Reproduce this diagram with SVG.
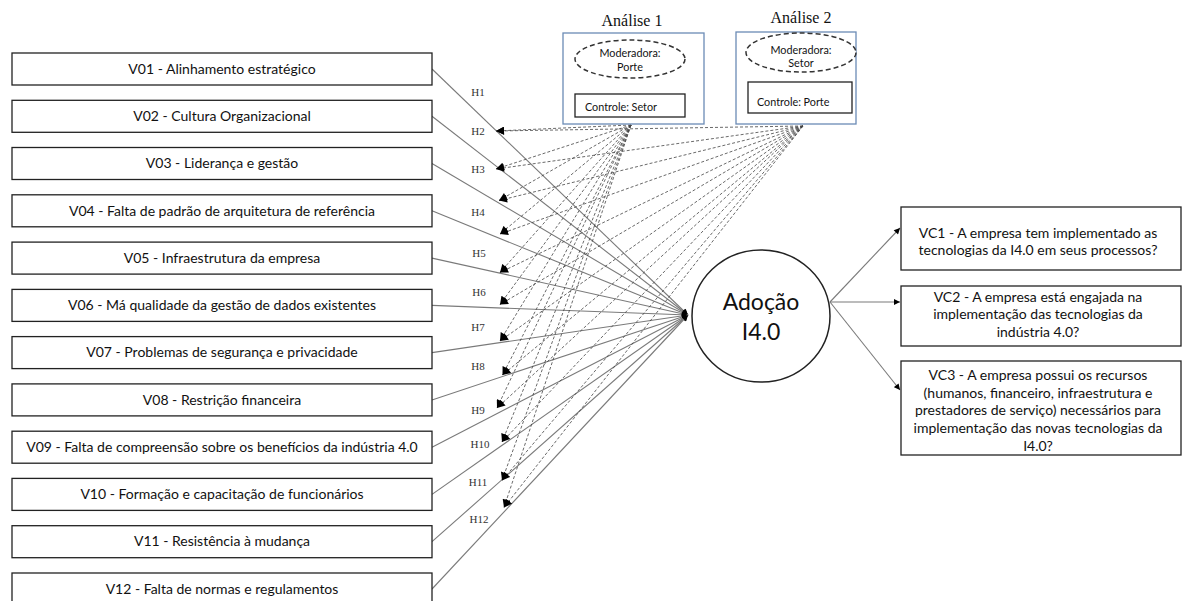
<svg xmlns="http://www.w3.org/2000/svg" width="1183" height="601" viewBox="0 0 1183 601">
<style>
.box{fill:#fff;stroke:#222;stroke-width:1.3}
.abox{fill:#fff;stroke:#6b8bb5;stroke-width:1.3}
.ell{fill:#fff;stroke:#333;stroke-width:1.5;stroke-dasharray:5 3}
.t{font-family:Lato,"Open Sans",sans-serif;font-size:14px;fill:#111;text-anchor:middle}
.s{font-family:Lato,"Open Sans",sans-serif;font-size:10.8px;fill:#111}
.big{font-family:Lato,"Open Sans",sans-serif;font-size:23px;fill:#111;text-anchor:middle}
.h{font-family:"Liberation Serif",serif;font-size:11px;fill:#333;text-anchor:middle}
.an{font-family:"Liberation Serif",serif;font-size:16px;fill:#111;text-anchor:middle}
.sol{stroke:#7a7a7a;stroke-width:1.1;fill:none}
.dash{stroke:#444;stroke-width:0.8;stroke-dasharray:3 2;fill:none}
</style>
<defs>
<marker id="ah" viewBox="0 0 10 10" refX="10" refY="5" markerWidth="9" markerHeight="8" markerUnits="userSpaceOnUse" orient="auto"><path d="M0,0 L10,5 L0,10 z" fill="#000"/></marker>
<marker id="as" viewBox="0 0 10 10" refX="10" refY="5" markerWidth="7" markerHeight="6" markerUnits="userSpaceOnUse" orient="auto"><path d="M0,0 L10,5 L0,10 z" fill="#000"/></marker>
</defs>

<g id="connectors">
<g id="solid-lines" class="sol">
<line x1="432" y1="69" x2="688" y2="315" marker-end="url(#as)"/>
<line x1="432" y1="116.3" x2="688" y2="315" marker-end="url(#as)"/>
<line x1="432" y1="163.5" x2="688" y2="315" marker-end="url(#as)"/>
<line x1="432" y1="210.8" x2="688" y2="315" marker-end="url(#as)"/>
<line x1="432" y1="258.1" x2="688" y2="315" marker-end="url(#as)"/>
<line x1="432" y1="305.4" x2="688" y2="315" marker-end="url(#as)"/>
<line x1="432" y1="352.6" x2="688" y2="315" marker-end="url(#as)"/>
<line x1="432" y1="399.9" x2="688" y2="315" marker-end="url(#as)"/>
<line x1="432" y1="447.2" x2="688" y2="315" marker-end="url(#as)"/>
<line x1="432" y1="494.4" x2="688" y2="315" marker-end="url(#as)"/>
<line x1="432" y1="541.7" x2="688" y2="315" marker-end="url(#as)"/>
<line x1="432" y1="589" x2="688" y2="315" marker-end="url(#as)"/>
<line x1="830" y1="302" x2="900" y2="228" marker-end="url(#as)"/>
<line x1="830" y1="302" x2="900" y2="302" marker-end="url(#as)"/>
<line x1="830" y1="302" x2="900" y2="390" marker-end="url(#as)"/>
</g>
<g id="dashed-a1" class="dash">
<line x1="631" y1="125" x2="496" y2="131" marker-end="url(#ah)"/>
<line x1="631" y1="125" x2="496" y2="169" marker-end="url(#ah)"/>
<line x1="631" y1="125" x2="499" y2="200.5" marker-end="url(#ah)"/>
<line x1="631" y1="125" x2="500" y2="234" marker-end="url(#ah)"/>
<line x1="631" y1="125" x2="500" y2="272.5" marker-end="url(#ah)"/>
<line x1="631" y1="125" x2="500" y2="304.5" marker-end="url(#ah)"/>
<line x1="631" y1="125" x2="500" y2="341" marker-end="url(#ah)"/>
<line x1="631" y1="125" x2="502.5" y2="375" marker-end="url(#ah)"/>
<line x1="631" y1="125" x2="497" y2="408" marker-end="url(#ah)"/>
<line x1="631" y1="125" x2="502" y2="442" marker-end="url(#ah)"/>
<line x1="631" y1="125" x2="502" y2="480.5" marker-end="url(#ah)"/>
<line x1="631" y1="125" x2="504" y2="507.5" marker-end="url(#ah)"/>
</g>
<g id="dashed-a2" class="dash">
<line x1="803" y1="126" x2="496" y2="131" marker-end="url(#ah)"/>
<line x1="803" y1="126" x2="496" y2="169" marker-end="url(#ah)"/>
<line x1="803" y1="126" x2="499" y2="200.5" marker-end="url(#ah)"/>
<line x1="803" y1="126" x2="500" y2="234" marker-end="url(#ah)"/>
<line x1="803" y1="126" x2="500" y2="272.5" marker-end="url(#ah)"/>
<line x1="803" y1="126" x2="500" y2="304.5" marker-end="url(#ah)"/>
<line x1="803" y1="126" x2="500" y2="341" marker-end="url(#ah)"/>
<line x1="803" y1="126" x2="502.5" y2="375" marker-end="url(#ah)"/>
<line x1="803" y1="126" x2="497" y2="408" marker-end="url(#ah)"/>
<line x1="803" y1="126" x2="502" y2="442" marker-end="url(#ah)"/>
<line x1="803" y1="126" x2="502" y2="480.5" marker-end="url(#ah)"/>
<line x1="803" y1="126" x2="504" y2="507.5" marker-end="url(#ah)"/>
</g>
<g id="h-labels" class="h">
<text x="478" y="95.5">H1</text>
<text x="478" y="134.5">H2</text>
<text x="478" y="172.5">H3</text>
<text x="478" y="215.5">H4</text>
<text x="479" y="256.5">H5</text>
<text x="479" y="295.5">H6</text>
<text x="478" y="330.5">H7</text>
<text x="478" y="369.5">H8</text>
<text x="478" y="413.5">H9</text>
<text x="480" y="447.5">H10</text>
<text x="478" y="485.5">H11</text>
<text x="479" y="522.5">H12</text>
</g>
</g>

<g id="v01"><rect class="box" x="12" y="53" width="420" height="32"/><text class="t" x="222" y="73.7">V01 - Alinhamento estratégico</text></g>
<g id="v02"><rect class="box" x="12" y="100.3" width="420" height="32"/><text class="t" x="222" y="121">V02 - Cultura Organizacional</text></g>
<g id="v03"><rect class="box" x="12" y="147.5" width="420" height="32"/><text class="t" x="222" y="168.2">V03 - Liderança e gestão</text></g>
<g id="v04"><rect class="box" x="12" y="194.8" width="420" height="32"/><text class="t" x="222" y="215.5">V04 - Falta de padrão de arquitetura de referência</text></g>
<g id="v05"><rect class="box" x="12" y="242.1" width="420" height="32"/><text class="t" x="222" y="262.8">V05 - Infraestrutura da empresa</text></g>
<g id="v06"><rect class="box" x="12" y="289.4" width="420" height="32"/><text class="t" x="222" y="310.1">V06 - Má qualidade da gestão de dados existentes</text></g>
<g id="v07"><rect class="box" x="12" y="336.6" width="420" height="32"/><text class="t" x="222" y="357.3">V07 - Problemas de segurança e privacidade</text></g>
<g id="v08"><rect class="box" x="12" y="383.9" width="420" height="32"/><text class="t" x="222" y="404.6">V08 - Restrição financeira</text></g>
<g id="v09"><rect class="box" x="12" y="431.2" width="420" height="32"/><text class="t" x="222" y="451.9">V09 - Falta de compreensão sobre os benefícios da indústria 4.0</text></g>
<g id="v10"><rect class="box" x="12" y="478.4" width="420" height="32"/><text class="t" x="222" y="499.1">V10 - Formação e capacitação de funcionários</text></g>
<g id="v11"><rect class="box" x="12" y="525.7" width="420" height="32"/><text class="t" x="222" y="546.4">V11 - Resistência à mudança</text></g>
<g id="v12"><rect class="box" x="12" y="573" width="420" height="32"/><text class="t" x="222" y="593.7">V12 - Falta de normas e regulamentos</text></g>

<g id="analise1">
<text class="an" x="632" y="26">Análise 1</text>
<rect class="abox" x="563" y="33" width="141" height="91"/>
<ellipse class="ell" cx="630" cy="59" rx="55" ry="19"/>
<text class="s" x="630" y="57" text-anchor="middle">Moderadora:</text>
<text class="s" x="630" y="70.5" text-anchor="middle">Porte</text>
<rect class="box" x="575" y="94" width="110" height="23"/>
<text class="s" x="585" y="110.5">Controle: Setor</text>
</g>

<g id="analise2">
<text class="an" x="801" y="23">Análise 2</text>
<rect class="abox" x="736" y="32" width="120" height="92"/>
<ellipse class="ell" cx="801" cy="52.5" rx="55" ry="19.5"/>
<text class="s" x="801" y="54" text-anchor="middle">Moderadora:</text>
<text class="s" x="801" y="66.5" text-anchor="middle">Setor</text>
<rect class="box" x="748" y="82" width="104" height="31"/>
<text class="s" x="757" y="106">Controle: Porte</text>
</g>

<g id="adocao">
<ellipse cx="761" cy="316" rx="69" ry="66" fill="#fff" stroke="#222" stroke-width="1.5"/>
<text class="big" x="761" y="310">Adoção</text>
<text class="big" x="761" y="340">I4.0</text>
</g>

<g id="vc1">
<rect class="box" x="901" y="207" width="280" height="63"/>
<text class="t" x="1038" y="237.5">VC1 - A empresa tem implementado as</text>
<text class="t" x="1038" y="255.2">tecnologias da I4.0 em seus processos?</text>
</g>
<g id="vc2">
<rect class="box" x="901" y="286" width="280" height="60"/>
<text class="t" x="1038" y="301.7">VC2 - A empresa está engajada na</text>
<text class="t" x="1038" y="319.4">implementação das tecnologias da</text>
<text class="t" x="1038" y="337.1">indústria 4.0?</text>
</g>
<g id="vc3">
<rect class="box" x="901" y="361" width="280" height="94"/>
<text class="t" x="1038" y="380">VC3 - A empresa possui os recursos</text>
<text class="t" x="1038" y="397.7">(humanos, financeiro, infraestrutura e</text>
<text class="t" x="1038" y="415.4">prestadores de serviço) necessários para</text>
<text class="t" x="1038" y="433.1">implementação das novas tecnologias da</text>
<text class="t" x="1038" y="450.8">I4.0?</text>
</g>
</svg>
